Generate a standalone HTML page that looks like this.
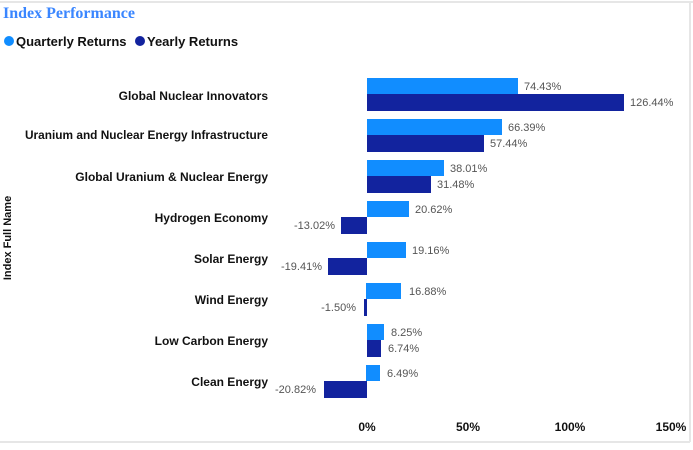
<!DOCTYPE html>
<html><head><meta charset="utf-8"><style>
body{margin:0;background:#fff;width:693px;height:445px;overflow:hidden}
svg{font-family:"Liberation Sans",sans-serif}
</style></head><body>
<svg width="693" height="445" viewBox="0 0 693 445">
<line x1="0" y1="2" x2="693" y2="2" stroke="#e6e6e6" stroke-width="2"/>
<line x1="0" y1="442" x2="690" y2="442" stroke="#e6e6e6" stroke-width="2"/>
<line x1="690" y1="2" x2="690" y2="442" stroke="#e6e6e6" stroke-width="2"/>
<text x="3" y="18" font-family="Liberation Serif,serif" font-weight="bold" font-size="16" fill="#3a86ff">Index Performance</text>
<circle cx="9" cy="41" r="5" fill="#118dff"/>
<text x="16" y="46" font-size="13" font-weight="bold" fill="#111">Quarterly Returns</text>
<circle cx="140" cy="41" r="5" fill="#12239e"/>
<text x="147" y="46" font-size="13" font-weight="bold" fill="#111">Yearly Returns</text>
<text transform="translate(11,238) rotate(-90)" text-anchor="middle" font-size="11" font-weight="bold" fill="#111">Index Full Name</text>
<g font-size="12" font-weight="bold" fill="#111" text-anchor="end">
<text x="268" y="100">Global Nuclear Innovators</text>
<text x="268" y="139" textLength="243" lengthAdjust="spacingAndGlyphs">Uranium and Nuclear Energy Infrastructure</text>
<text x="268" y="181">Global Uranium &amp; Nuclear Energy</text>
<text x="268" y="222">Hydrogen Economy</text>
<text x="268" y="263">Solar Energy</text>
<text x="268" y="304">Wind Energy</text>
<text x="268" y="345">Low Carbon Energy</text>
<text x="268" y="386">Clean Energy</text>
</g>
<g font-size="11" fill="#555">
<rect x="367" y="78" width="151" height="16" fill="#118dff"/><rect x="367" y="94" width="257" height="17" fill="#12239e"/>
<text x="524" y="90">74.43%</text><text x="630" y="106">126.44%</text>
<rect x="367" y="119" width="135" height="16" fill="#118dff"/><rect x="367" y="135" width="117" height="17" fill="#12239e"/>
<text x="508" y="131">66.39%</text><text x="490" y="147">57.44%</text>
<rect x="367" y="160" width="77" height="16" fill="#118dff"/><rect x="367" y="176" width="64" height="17" fill="#12239e"/>
<text x="450" y="172">38.01%</text><text x="437" y="188">31.48%</text>
<rect x="367" y="201" width="42" height="16" fill="#118dff"/><rect x="341" y="217" width="26" height="17" fill="#12239e"/>
<text x="415" y="213">20.62%</text><text x="335" y="229" text-anchor="end">-13.02%</text>
<rect x="367" y="242" width="39" height="16" fill="#118dff"/><rect x="328" y="258" width="39" height="17" fill="#12239e"/>
<text x="412" y="254">19.16%</text><text x="322" y="270" text-anchor="end">-19.41%</text>
<rect x="366" y="283" width="35" height="16" fill="#118dff"/><rect x="364" y="299" width="3" height="17" fill="#12239e"/>
<text x="409" y="295">16.88%</text><text x="356" y="311" text-anchor="end">-1.50%</text>
<rect x="367" y="324" width="17" height="16" fill="#118dff"/><rect x="367" y="340" width="14" height="17" fill="#12239e"/>
<text x="391" y="336">8.25%</text><text x="388" y="352">6.74%</text>
<rect x="366" y="365" width="14" height="16" fill="#118dff"/><rect x="324" y="381" width="43" height="17" fill="#12239e"/>
<text x="387" y="377">6.49%</text><text x="316" y="393" text-anchor="end">-20.82%</text>
</g>
<g font-size="12" font-weight="bold" fill="#111" text-anchor="middle">
<text x="367" y="431">0%</text><text x="468" y="431">50%</text><text x="570" y="431">100%</text><text x="671" y="431">150%</text>
</g>
</svg>
</body></html>
